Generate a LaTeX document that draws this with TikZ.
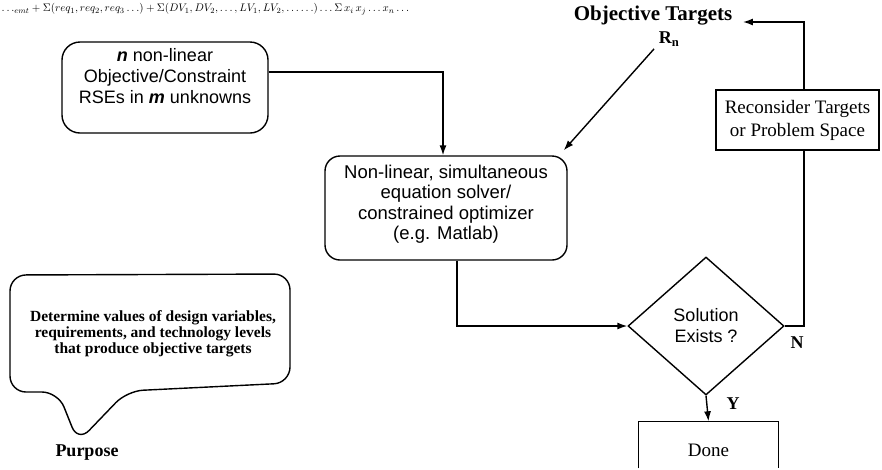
\documentclass[tikz,border=0pt]{standalone}
\usepackage{fontspec}
\setmainfont{Liberation Serif}
\newfontfamily\sansf{Liberation Sans}
\usetikzlibrary{arrows.meta,shapes.geometric}
\begin{document}
\begin{tikzpicture}[x=1pt,y=-1pt,line width=1.4pt,
  arr/.style={-{Latex[length=10pt,width=7pt]}},
  rbox/.style={draw,rounded corners=18pt},
  sanstxt/.style={align=center,font=\sansf\fontsize{18}{21}\selectfont},
  sertxt/.style={align=center,font=\fontsize{19}{23}\selectfont},
  boldtxt/.style={align=center,font=\bfseries\fontsize{15.5}{16}\selectfont},
  lbl/.style={font=\bfseries\fontsize{18}{20}\selectfont,inner sep=1pt}]
\useasboundingbox (0,0) rectangle (882,469);

% partially visible formula line at the top
\node[anchor=north west,inner sep=0pt,font=\itshape\fontsize{11}{11}\selectfont] (formula) at (1,3)
  {$\ldots_{emt}+\Sigma(req_1,req_2,req_3\ldots)+\Sigma(DV_1,DV_2,\ldots,LV_1,LV_2,\ldots\ldots)\ldots\Sigma\,x_i\,x_j\ldots x_n\ldots$};

% box 1
\node[rbox,minimum width=206pt,minimum height=91pt] (box1) at (165,87.5) {};
\node[sanstxt] (box1t) at (165,76)
  {{\bfseries\itshape n} non-linear\\Objective/Constraint\\RSEs in {\bfseries\itshape m} unknowns};

% box 2
\node[rbox,rounded corners=15pt,minimum width=242pt,minimum height=104pt] (box2) at (446,208) {};
\node[sanstxt,font=\sansf\fontsize{18.5}{20.5}\selectfont] (box2t) at (446,204)
  {Non-linear, simultaneous\\equation solver/\\constrained optimizer\\(e.g. Matlab)};

% objective targets
\node[font=\bfseries\fontsize{21}{22}\selectfont,inner sep=2pt] (obj) at (653,16) {Objective Targets};
\node[font=\bfseries\fontsize{18}{18}\selectfont,inner sep=2pt] (rn) at (669,39) {R\textsubscript{n}};

% decision
\node[draw,diamond,aspect=1.13,minimum width=156pt,minimum height=138pt,inner sep=0pt,
  sanstxt] (dia) at (706,326) {Solution\\Exists ?};

% reconsider box
\node[draw,minimum width=163pt,minimum height=60pt,inner sep=0pt,sertxt] (recon) at (797.5,120)
  {Reconsider Targets\\or Problem Space};

% done box (bottom cut off)
\node[minimum width=139pt,minimum height=56pt,inner sep=0pt,sertxt] (done) at (708.5,450) {Done};
\draw (done.north west) ++(0,47) -- (done.north west) -- (done.north east) -- ++(0,47);

% connectors
\coordinate (vx) at (804,0);
\draw[arr] ([yshift=15.5pt]box1.east) -| ([xshift=-3pt]box2.north);
\draw[arr] ([xshift=-2pt]rn.south west) -- ([xshift=-4pt,yshift=5pt]box2.north east);
\draw[arr] ([xshift=11pt]box2.south) |- (dia.west);
\draw (dia.east) -| (vx |- recon.south);
\draw[arr] (vx |- recon.north) |- ([xshift=8pt,yshift=-6pt]obj.east);
\draw[arr] (dia.south) -- (done.north);
\node[lbl] (nlab) at (797,343) {N};
\node[lbl] (ylab) at (733,404) {Y};

% purpose speech bubble
\draw[rounded corners=16pt] (58,392) -- (78,442) -- (127,391) -- (290,383) -- (290,274)
  -- (10,275) -- (10,392) -- cycle;
\node[boldtxt] (purpt) at (153,334)
  {Determine values of design variables,\\requirements, and technology levels\\that produce objective targets};
\node[font=\bfseries\fontsize{18}{18}\selectfont] (purp) at (87,453) {Purpose};
\end{tikzpicture}
\end{document}
